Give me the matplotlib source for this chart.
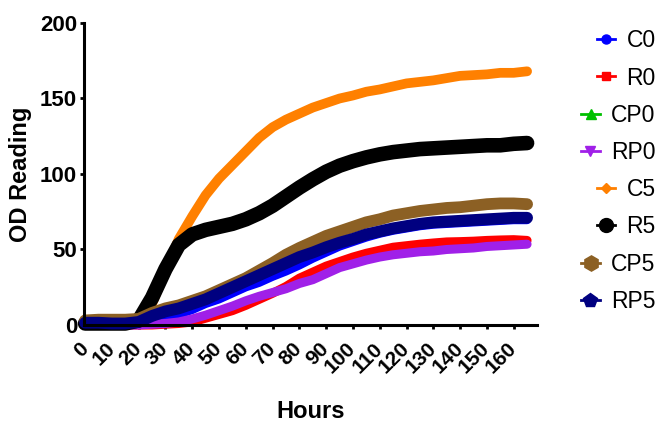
import matplotlib

matplotlib.use("Agg")
import matplotlib.pyplot as plt
from matplotlib.lines import Line2D

plt.rcParams["font.family"] = ["Liberation Sans", "DejaVu Sans"]

HOURS = list(range(0, 170, 5))

C0 = [0.5, 0.5, 0.5, 0.5, 0.5, 1, 4, 7, 10, 14, 17, 21, 25, 28, 32, 35.5, 39.5,
      44, 48, 52, 55, 58, 60.5, 62.5, 64, 65.5, 66.5, 67, 67.5, 68, 68.5, 69, 69.5, 69.5]
R0 = [0, 0, 0, 0, 0, 0, 0.5, 1, 2, 4.5, 7, 9.5, 13, 17, 21, 25.5, 31,
      35, 39, 42, 45, 47.5, 49.5, 51.5, 52.5, 53.5, 54.3, 55, 55.2, 55.5, 56, 56.3, 56.5, 56]
# CP0 is hidden under the RP5/CP5 bands in the original
CP0 = [2, 2, 2, 2, 3, 7, 10, 12, 15, 18, 22, 26, 30, 34, 38, 42, 46,
       48.5, 52, 55, 57.5, 60, 62, 64, 65.5, 67, 68, 68.5, 69, 69.5, 70, 70.5, 71, 71]
RP0 = [0, 0, 0, 0, 0, 0.5, 1, 2, 4, 6.5, 9.5, 12.5, 16, 19, 21.5, 24, 27.5,
       30, 34, 38, 40.5, 43, 45, 46.5, 47.5, 48.5, 49, 50, 50.5, 51, 52, 52.5, 53, 53.5]
C5 = [1, 1, 1, 1, 2, 14, 36, 57, 72, 86, 97, 106, 115, 124, 131, 136, 140,
      144, 147, 150, 152, 154.5, 156, 158, 160, 161, 162, 163.5, 165, 165.5, 166, 167, 167, 168]
R5 = [1, 1, 1, 1, 3, 18, 37, 53, 60, 63, 65, 67, 70, 74, 79, 85, 91,
      96.5, 101.5, 105.5, 108.5, 111, 113, 114.5, 115.5, 116.5, 117, 117.5, 118, 118.5, 119, 119, 120, 120.5]
CP5 = [3, 3.5, 3.5, 3.5, 4, 8, 11, 13, 16, 19, 23, 27, 31, 36, 41, 46.5, 51,
       55, 59, 62, 65, 68, 70, 72.5, 74, 75.5, 76.5, 77.5, 78, 79, 80, 80.5, 80.5, 80]
RP5 = [1.5, 1.5, 1, 1, 2, 6, 9, 11, 14, 17, 21, 25, 29, 33, 37, 41, 45,
       48, 51.5, 54.5, 57, 60, 62, 64, 65.5, 67, 68, 68.5, 69, 69.5, 70, 70.5, 71, 71]

SERIES = [
    # label, values, colour, marker, marker size, band width
    ("C0", C0, "#0000ff", "o", 6.5, 6),
    ("R0", R0, "#ff0000", "s", 6, 6.5),
    ("CP0", CP0, "#00c000", "^", 7, 6),
    ("RP0", RP0, "#a020e8", "v", 7, 6.5),
    ("C5", C5, "#ff8000", "D", 5.5, 7),
    ("R5", R5, "#000000", "o", 10, 10.5),
    ("CP5", CP5, "#8c6024", "h", 11, 8.5),
    ("RP5", RP5, "#000080", "p", 10, 8.5),
]


def main() -> None:
    fig = plt.figure(figsize=(6.58, 4.22), dpi=100)
    ax = fig.add_axes([0.1277, 0.2299, 0.8161 - 0.1277, 0.9455 - 0.2299])

    handles = []
    for label, values, color, marker, msize, width in SERIES:
        ax.plot(HOURS, values, color=color, linewidth=width,
                solid_capstyle="round", solid_joinstyle="round", clip_on=False)
        handles.append(Line2D([], [], color=color, linewidth=2, marker=marker,
                              markersize=msize, label=label))

    ax.set_xlim(-0.4, 168.7)
    ax.set_ylim(0, 200)
    ax.set_xticks(range(0, 170, 10))
    ax.set_yticks(range(0, 201, 50))

    for side in ("top", "right"):
        ax.spines[side].set_visible(False)
    for side in ("left", "bottom"):
        ax.spines[side].set_linewidth(2.2)

    ax.tick_params(axis="both", length=3, width=2)
    ax.tick_params(axis="y", pad=2, labelsize=16)
    ax.tick_params(axis="x", pad=12, labelsize=15)
    for lbl in ax.get_yticklabels():
        lbl.set_fontweight("bold")
    for lbl in ax.get_xticklabels():
        lbl.set_fontweight("bold")
        lbl.set_rotation(45)
        lbl.set_ha("right")
        lbl.set_va("center")
        lbl.set_rotation_mode("anchor")

    ax.set_ylabel("OD Reading", fontsize=17, fontweight="bold", labelpad=6)
    ax.set_xlabel("Hours", fontsize=17, fontweight="bold")
    ax.xaxis.set_label_coords(0.5, -0.25)

    leg = fig.legend(handles=handles, loc="upper right", bbox_to_anchor=(1.012, 0.955),
                     frameon=False, fontsize=16.5, handlelength=0.8,
                     handletextpad=0.5, labelspacing=0.62, borderaxespad=0.05)
    # right-align the entries like the original
    for col in leg._legend_handle_box.get_children():
        col.align = "right"

    fig.savefig("out.png", dpi=100)


if __name__ == "__main__":
    main()
